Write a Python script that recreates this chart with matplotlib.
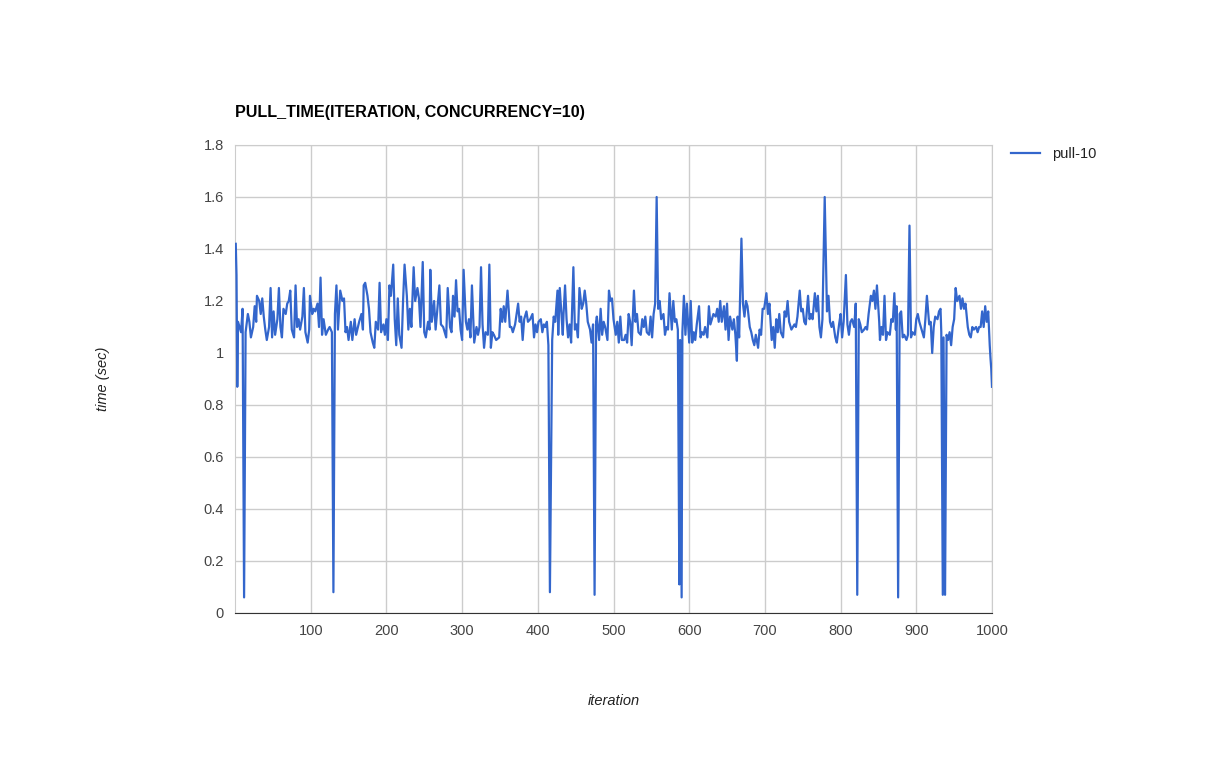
"""
Pull time per iteration at concurrency 10, one line with legend on the right.
Values are read off the reference picture by eye.
"""
import matplotlib
matplotlib.use("Agg")
import matplotlib.pyplot as plt

plt.rcParams["font.family"] = ["Liberation Sans", "DejaVu Sans"]

TITLE = "PULL_TIME(ITERATION, CONCURRENCY=10)"
SERIES = "pull-10"
X_TICKS = [100, 200, 300, 400, 500, 600, 700, 800, 900, 1000]
Y_TICKS = [0, 0.2, 0.4, 0.6, 0.8, 1, 1.2, 1.4, 1.6, 1.8]
Y_TICK_LABELS = ["0", "0.2", "0.4", "0.6", "0.8", "1", "1.2", "1.4", "1.6", "1.8"]

# (iteration, seconds)
iteration = [
    1, 2, 3, 4, 6, 8, 10, 12, 14, 17, 19, 21, 24, 26, 28, 29, 32, 34, 36, 38,
    40, 42, 45, 47, 49, 51, 53, 56, 58, 60, 62, 64, 67, 69, 71, 73, 75, 78, 80, 82,
    84, 86, 89, 91, 93, 96, 98, 99, 102, 104, 106, 109, 111, 113, 115, 117, 120, 123, 125, 128,
    130, 132, 134, 136, 139, 142, 144, 146, 148, 150, 153, 155, 158, 160, 164, 167, 169, 170, 172, 175,
    177, 179, 182, 184, 186, 189, 191, 193, 196, 198, 200, 202, 204, 206, 209, 211, 213, 215, 217, 220,
    222, 224, 227, 229, 231, 233, 236, 238, 241, 243, 245, 248, 250, 252, 255, 257, 258, 260, 263, 265,
    267, 270, 272, 275, 277, 279, 281, 284, 286, 288, 290, 292, 294, 296, 298, 300, 302, 305, 307, 309,
    311, 313, 316, 319, 321, 323, 325, 327, 329, 331, 334, 336, 338, 340, 342, 345, 349, 351, 353, 355,
    357, 360, 363, 365, 367, 370, 374, 376, 378, 380, 382, 385, 387, 390, 393, 395, 397, 399, 401, 404,
    406, 408, 410, 412, 414, 416, 419, 421, 423, 426, 427, 429, 431, 433, 434, 436, 438, 440, 442, 444,
    447, 449, 451, 453, 455, 458, 460, 462, 464, 466, 469, 471, 473, 475, 477, 478, 481, 483, 485, 487,
    489, 492, 494, 496, 498, 500, 503, 505, 507, 509, 511, 514, 516, 518, 520, 522, 524, 527, 529, 531,
    533, 536, 538, 540, 542, 544, 547, 549, 551, 553, 555, 557, 559, 561, 563, 566, 568, 570, 572, 574,
    577, 579, 581, 583, 585, 587, 588, 590, 591, 593, 595, 597, 600, 602, 604, 606, 608, 610, 613, 615,
    617, 619, 621, 624, 626, 628, 630, 632, 635, 637, 639, 641, 643, 646, 648, 650, 652, 654, 657, 659,
    661, 663, 664, 666, 669, 671, 673, 675, 677, 680, 682, 684, 686, 688, 691, 693, 695, 697, 699, 702,
    704, 706, 709, 711, 713, 715, 717, 719, 721, 724, 726, 728, 730, 732, 735, 737, 739, 741, 743, 746,
    748, 750, 752, 754, 757, 759, 761, 763, 766, 768, 770, 772, 774, 776, 779, 782, 784, 786, 788, 790,
    793, 795, 798, 800, 802, 804, 807, 809, 811, 813, 815, 818, 820, 822, 824, 826, 828, 831, 833, 835,
    837, 840, 842, 844, 846, 848, 851, 852, 854, 856, 858, 860, 862, 865, 867, 869, 871, 873, 874, 876,
    878, 880, 882, 884, 887, 889, 891, 893, 895, 898, 900, 902, 904, 906, 908, 910, 912, 914, 917, 919,
    921, 923, 925, 928, 930, 932, 933, 935, 936, 938, 940, 942, 944, 946, 948, 950, 952, 954, 957, 959,
    961, 963, 965, 968, 970, 972, 974, 976, 979, 981, 983, 985, 987, 989, 991, 993, 995, 997, 998, 999,
    1000,
]
pull_10 = [
    1.42, 1.30, 0.87, 1.12, 1.10, 1.08, 1.17, 0.06, 1.08, 1.15, 1.12, 1.06, 1.10, 1.18, 1.12, 1.22, 1.20, 1.15, 1.21, 1.14,
    1.09, 1.05, 1.10, 1.25, 1.06, 1.16, 1.07, 1.13, 1.25, 1.10, 1.06, 1.17, 1.15, 1.19, 1.20, 1.24, 1.09, 1.06, 1.26, 1.10,
    1.13, 1.09, 1.14, 1.25, 1.08, 1.04, 1.09, 1.22, 1.15, 1.17, 1.16, 1.19, 1.10, 1.29, 1.07, 1.13, 1.07, 1.09, 1.10, 1.08,
    0.08, 1.15, 1.26, 1.09, 1.24, 1.20, 1.21, 1.08, 1.10, 1.05, 1.12, 1.05, 1.13, 1.07, 1.12, 1.15, 1.09, 1.26, 1.27, 1.22,
    1.17, 1.08, 1.04, 1.02, 1.12, 1.09, 1.27, 1.08, 1.11, 1.07, 1.13, 1.05, 1.26, 1.22, 1.34, 1.13, 1.03, 1.21, 1.07, 1.02,
    1.20, 1.34, 1.22, 1.09, 1.17, 1.10, 1.33, 1.20, 1.25, 1.21, 1.10, 1.35, 1.08, 1.06, 1.12, 1.09, 1.32, 1.12, 1.20, 1.09,
    1.16, 1.26, 1.11, 1.10, 1.08, 1.06, 1.25, 1.10, 1.08, 1.22, 1.14, 1.28, 1.16, 1.17, 1.09, 1.05, 1.32, 1.12, 1.09, 1.13,
    1.06, 1.26, 1.04, 1.10, 1.07, 1.10, 1.33, 1.11, 1.02, 1.08, 1.07, 1.34, 1.02, 1.08, 1.07, 1.05, 1.06, 1.17, 1.12, 1.18,
    1.12, 1.24, 1.10, 1.10, 1.08, 1.11, 1.19, 1.12, 1.14, 1.05, 1.13, 1.16, 1.12, 1.13, 1.15, 1.06, 1.11, 1.08, 1.12, 1.13,
    1.08, 1.11, 1.10, 1.12, 1.03, 0.08, 1.05, 1.14, 1.12, 1.24, 1.07, 1.25, 1.16, 1.07, 1.15, 1.26, 1.13, 1.06, 1.11, 1.04,
    1.33, 1.09, 1.11, 1.06, 1.25, 1.17, 1.19, 1.24, 1.19, 1.12, 1.09, 1.04, 1.11, 0.07, 1.12, 1.14, 1.05, 1.17, 1.07, 1.12,
    1.10, 1.05, 1.24, 1.20, 1.21, 1.13, 1.07, 1.12, 1.04, 1.14, 1.05, 1.05, 1.07, 1.04, 1.15, 1.12, 1.03, 1.24, 1.12, 1.15,
    1.08, 1.07, 1.13, 1.10, 1.14, 1.08, 1.07, 1.14, 1.06, 1.15, 1.19, 1.60, 1.17, 1.20, 1.13, 1.15, 1.07, 1.10, 1.09, 1.23,
    1.09, 1.20, 1.12, 1.13, 1.09, 0.11, 1.05, 0.06, 1.08, 1.22, 1.07, 1.19, 1.04, 1.20, 1.04, 1.08, 1.05, 1.11, 1.18, 1.06,
    1.08, 1.07, 1.10, 1.06, 1.18, 1.11, 1.13, 1.15, 1.14, 1.17, 1.12, 1.20, 1.12, 1.18, 1.09, 1.19, 1.05, 1.14, 1.09, 1.13,
    1.07, 0.97, 1.14, 1.06, 1.44, 1.19, 1.14, 1.20, 1.18, 1.10, 1.08, 1.05, 1.03, 1.07, 1.02, 1.09, 1.07, 1.17, 1.17, 1.23,
    1.15, 1.19, 1.05, 1.10, 1.02, 1.13, 1.08, 1.15, 1.08, 1.06, 1.16, 1.14, 1.20, 1.12, 1.09, 1.10, 1.11, 1.10, 1.14, 1.24,
    1.16, 1.17, 1.12, 1.11, 1.22, 1.13, 1.15, 1.13, 1.23, 1.16, 1.22, 1.10, 1.06, 1.13, 1.60, 1.16, 1.22, 1.12, 1.10, 1.12,
    1.06, 1.04, 1.11, 1.15, 1.06, 1.12, 1.30, 1.11, 1.07, 1.12, 1.13, 1.10, 1.19, 0.07, 1.13, 1.11, 1.08, 1.09, 1.10, 1.09,
    1.15, 1.22, 1.20, 1.24, 1.17, 1.26, 1.12, 1.05, 1.10, 1.07, 1.22, 1.05, 1.08, 1.07, 1.13, 1.12, 1.23, 1.09, 1.18, 0.06,
    1.15, 1.16, 1.06, 1.07, 1.05, 1.07, 1.49, 1.06, 1.08, 1.07, 1.13, 1.15, 1.12, 1.10, 1.08, 1.06, 1.13, 1.22, 1.11, 1.12,
    1.00, 1.10, 1.14, 1.13, 1.16, 1.17, 1.08, 0.07, 1.06, 0.07, 1.07, 1.05, 1.08, 1.03, 1.10, 1.13, 1.25, 1.20, 1.22, 1.17,
    1.21, 1.17, 1.19, 1.10, 1.07, 1.06, 1.10, 1.09, 1.10, 1.08, 1.10, 1.10, 1.16, 1.10, 1.18, 1.12, 1.16, 1.03, 0.98, 0.94,
    0.87,
]

W, H = 1227, 759
fig = plt.figure(figsize=(W / 100, H / 100), dpi=100)
ax = fig.add_axes([235 / W, 1 - 613 / H, (992 - 235) / W, (613 - 145) / H])

ax.plot(iteration, pull_10, color="#3366cc", lw=1.6, label=SERIES, zorder=3)

ax.set_xlim(0, 1000)
ax.set_ylim(0, 1.8)
ax.set_xticks(X_TICKS)
ax.set_yticks(Y_TICKS)
ax.set_yticklabels(Y_TICK_LABELS)
ax.grid(True, color="#cccccc", lw=1)
ax.tick_params(length=0, labelsize=10.5, labelcolor="#444444", pad=8)
for side in ["left", "right", "top"]:
    ax.spines[side].set_color("#cccccc")
ax.spines["bottom"].set_color("#333333")
ax.spines["bottom"].set_zorder(4)

ax.set_xlabel("iteration", fontsize=10.5, style="italic", color="#222222", labelpad=40)
ax.set_ylabel("time (sec)", fontsize=10.5, style="italic", color="#222222", labelpad=67)

fig.text(235 / W, 1 - 112 / H, TITLE, fontsize=11.6, fontweight="bold",
         color="#000000", va="center", ha="left")

ax.legend(loc="upper left", bbox_to_anchor=(1.008, 1.024), frameon=False,
          fontsize=10.5, handlelength=2.0, labelcolor="#222222")

fig.savefig("out.png", dpi=100)
